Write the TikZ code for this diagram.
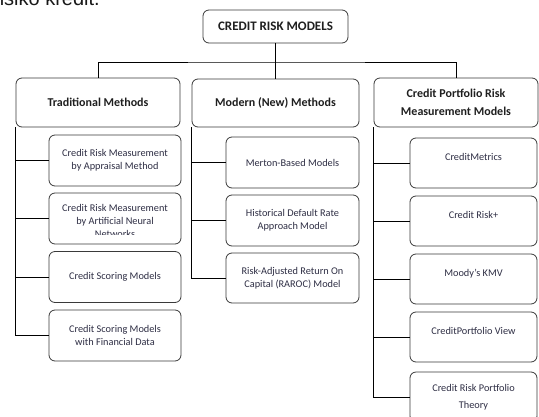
\documentclass[tikz,border=0pt]{standalone}
\usepackage{fontspec}
\setmainfont{Carlito}
\newfontfamily\pagefont{Liberation Sans}
\definecolor{frame}{HTML}{3A3A3A}
\definecolor{ink}{HTML}{2E2E44}
\tikzset{
  card/.style={draw=frame, line width=0.8pt, rounded corners=6pt, inner sep=0pt,
    align=center, text=ink},
  headcard/.style={card, font=\bfseries\fontsize{12}{17.5}\selectfont, text=black!88},
  leafcard/.style={card, font=\fontsize{10.3}{13}\selectfont},
  link/.style={draw=black, line width=0.8pt},
}
\begin{document}
\begin{tikzpicture}[x=1pt,y=-1pt]
  \clip (0,0) rectangle (539,416);
  \fill[white] (0,0) rectangle (539,416);

  % running text of the page above the chart
  \node[font=\pagefont\fontsize{20}{24}\selectfont, anchor=base east, text=black!90,
    inner sep=0pt] (para) at (100,5.5) {risiko kredit.};

  % root and the three families
  \node[headcard, font=\bfseries\fontsize{13}{16}\selectfont,
    minimum width=145pt, minimum height=33pt] (root) at (275.5,26.5) {CREDIT RISK MODELS};
  \node[headcard, minimum width=164pt, minimum height=49pt] (trad) at (98,102.5)
    {Traditional Methods};
  \node[headcard, minimum width=167pt, minimum height=48pt] (modern) at (275.5,103)
    {Modern (New) Methods};
  \node[headcard, minimum width=164pt, minimum height=49pt] (port) at (456,102.5)
    {Credit Portfolio Risk\\Measurement Models};

  \coordinate (bus) at (275.5,62);
  \draw[link] (root.south) -- (modern.north);
  \draw[link] (trad.north) |- (bus) -| (port.north);

  % traditional methods
  \begin{scope}[every node/.style={leafcard, minimum width=132pt, minimum height=51pt}]
    \node (a1) at (115,160.5) {Credit Risk Measurement\\by Appraisal Method};
    \node (a2) at (115,218.5) {};
    \node (a3) at (115,277) {Credit Scoring Models};
    \node (a4) at (115,335.5) {Credit Scoring Models\\with Financial Data};
  \end{scope}
  \begin{scope}
    \clip (49,193) rectangle (181,234.5);
    \node[leafcard, draw=none] (a2text) at (115,221)
      {Credit Risk Measurement\\by Artificial Neural\\Networks};
  \end{scope}
  \draw[link] (trad.south west) |- (a4.west);
  \foreach \k in {a1,a2,a3}
    \draw[link] (trad.south west |- \k.west) -- (\k.west);

  % modern methods
  \begin{scope}[every node/.style={leafcard, minimum width=133pt, minimum height=51pt}]
    \node (b1) at (292.5,162.5) {Merton-Based Models};
    \node (b2) at (292.5,220.5) {Historical Default Rate\\Approach Model};
    \node[minimum height=50pt] (b3) at (292.5,278) {Risk-Adjusted Return On\\Capital (RAROC) Model};
  \end{scope}
  \draw[link] (modern.south west) |- (b3.west);
  \foreach \k in {b1,b2}
    \draw[link] (modern.south west |- \k.west) -- (\k.west);

  % portfolio models
  \begin{scope}[every node/.style={leafcard, minimum width=127pt, minimum height=50pt}]
    \node (c1) at (473.5,163) {CreditMetrics\\~};
    \node (c2) at (473.5,221) {Credit Risk+\\~};
    \node (c3) at (473.5,279) {Moody's KMV\\~};
    \node (c4) at (473.5,337) {CreditPortfolio View\\~};
    \node (c5) at (473.5,397) {Credit Risk Portfolio\\[4.5pt]Theory};
  \end{scope}
  \draw[link] (port.south west) |- (c5.west);
  \foreach \k in {c1,c2,c3,c4}
    \draw[link] (port.south west |- \k.west) -- (\k.west);
\end{tikzpicture}
\end{document}
